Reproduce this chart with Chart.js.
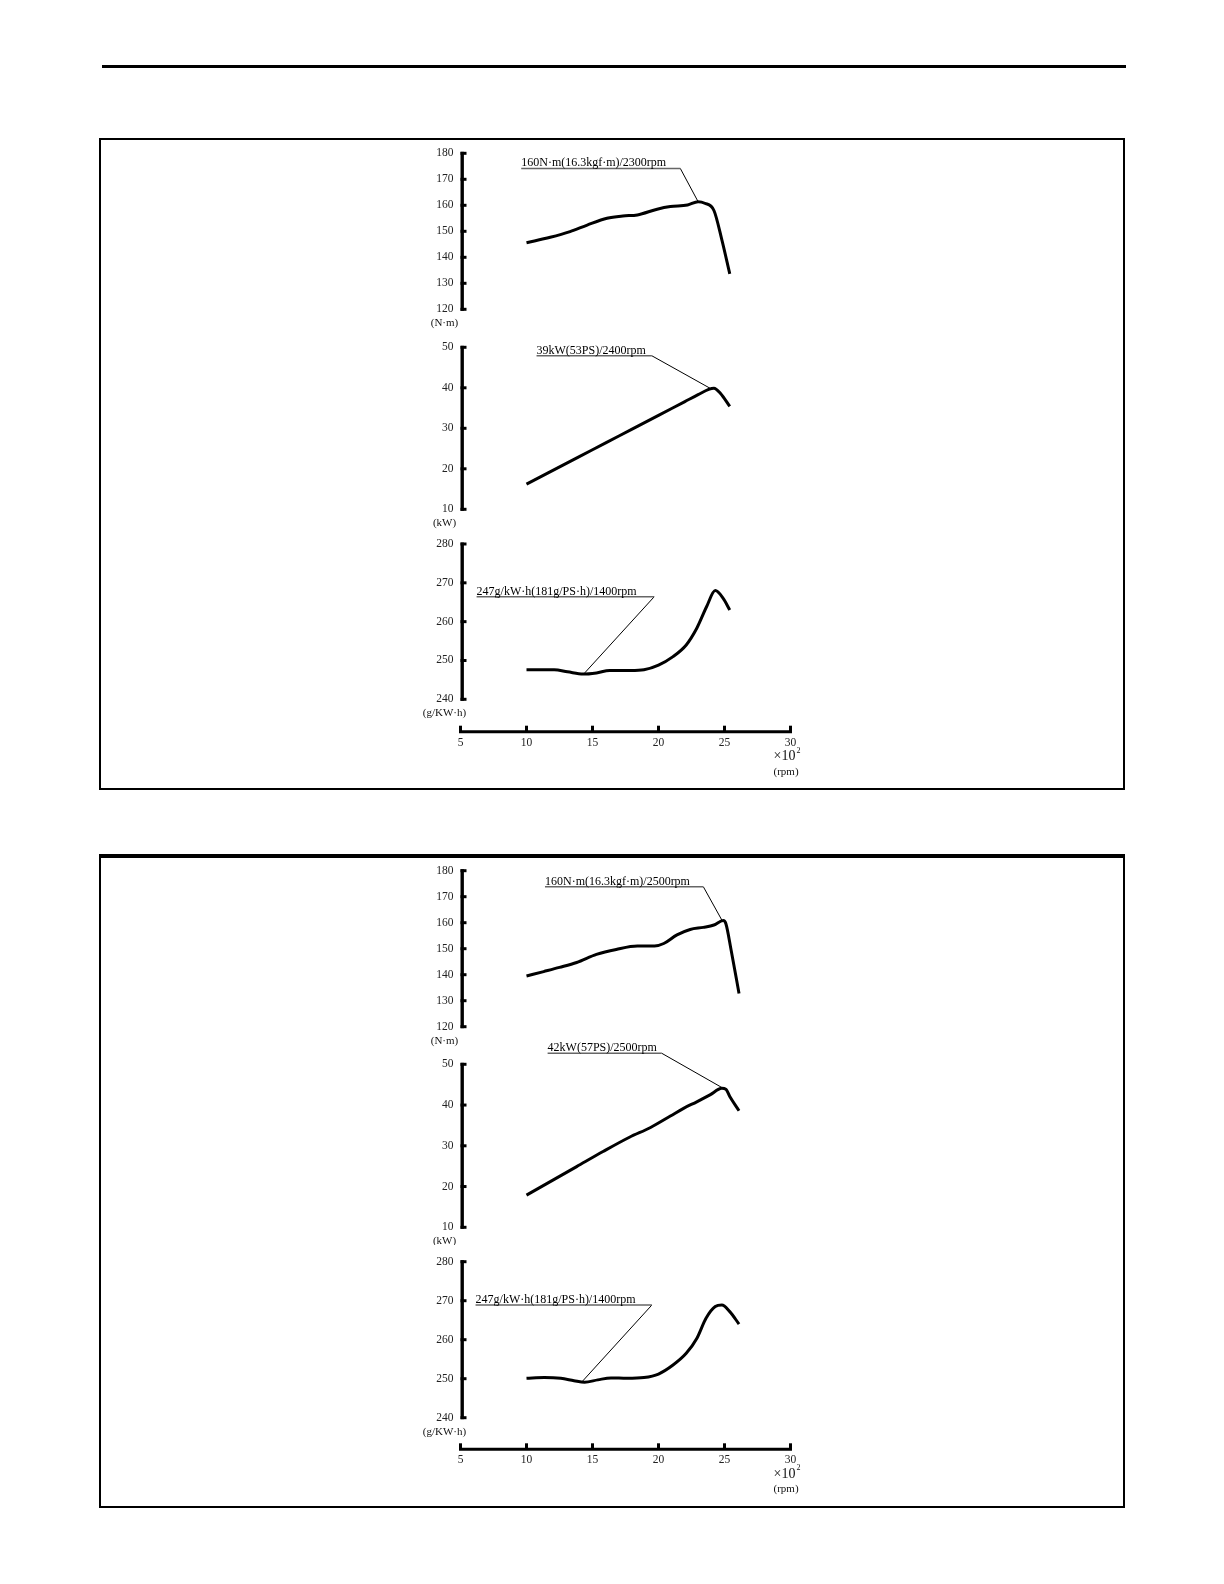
<!DOCTYPE html>
<html lang="zh">
<head>
<meta charset="UTF-8">
<title>发动机性能曲线</title>
<script src="https://cdn.jsdelivr.net/npm/chart.js@4"></script>
<style>
  body { margin: 0; background: #fff; }
  .page { position: relative; width: 1224px; height: 1584px; overflow: hidden; }
  .rule { position: absolute; left: 102px; top: 65px; width: 1024px; height: 3px; background: #000; }
  .frame { position: absolute; border: 2px solid #000; box-sizing: border-box; }
  canvas { position: absolute; left: 410px; }
</style>
</head>
<body>
<div class="page">
  <div class="rule"></div>
  <div class="frame" style="left:99px;top:138px;width:1026px;height:652px"></div>
  <div class="frame" style="left:99px;top:854px;width:1026px;height:654px;border-top-width:4px"></div>
  <canvas id="torqueA"></canvas>
  <canvas id="powerA"></canvas>
  <canvas id="fuelA"></canvas>
  <canvas id="torqueB"></canvas>
  <canvas id="powerB"></canvas>
  <canvas id="fuelB"></canvas>
</div>

<script>
// x values are rpm x 100
const xTicks = [5, 10, 15, 20, 25, 30];
const torqueTicks = [120, 130, 140, 150, 160, 170, 180];
const powerTicks = [10, 20, 30, 40, 50];
const fuelTicks = [240, 250, 260, 270, 280];

// upper chart
const rpmTorqueA = [10, 11.8, 13.3, 14.6, 16.1, 17.3, 18.4, 19.9, 20.9, 22.2, 23.0, 23.5, 24.2, 24.8, 25.4];
const torqueA = [145.6, 147.7, 149.9, 152.4, 155.0, 155.9, 156.3, 158.5, 159.5, 160.1, 161.4, 160.8, 158.0, 146.7, 133.6];
const rpmPowerA = [10, 12, 14, 16, 18, 20, 22, 23, 23.8, 24.2, 24.7, 25.4];
const powerA = [16.2, 19.6, 23.0, 26.4, 29.8, 33.2, 36.6, 38.3, 39.6, 39.9, 38.6, 35.4];
const rpmFuelA = [10, 12.1, 13.1, 14.3, 15.3, 16.3, 17.9, 18.9, 20, 21.1, 22.1, 22.9, 23.65, 24.3, 24.9, 25.4];
const fuelA = [247.6, 247.6, 247.1, 246.5, 246.8, 247.4, 247.4, 247.6, 248.8, 251.0, 254.0, 258.3, 263.9, 268.0, 266.0, 263.0];

// lower chart
const rpmTorqueB = [10, 11.3, 12.5, 13.8, 15.3, 16.8, 18.4, 19.7, 20.4, 21.4, 22.4, 23.4, 24.2, 24.9, 25.1, 25.5, 26.1];
const torqueB = [139.5, 141.2, 142.8, 144.7, 147.8, 149.7, 151.0, 151.0, 152.0, 155.3, 157.4, 158.2, 159.1, 160.8, 159.7, 149.5, 132.8];
const rpmPowerB = [10, 11.8, 13.8, 15.8, 17.8, 19.4, 20.9, 21.9, 22.9, 23.9, 24.8, 25.1, 25.4, 26.1];
const powerB = [17.9, 21.2, 24.9, 28.6, 32.1, 34.5, 37.3, 39.2, 40.8, 42.5, 44.1, 43.9, 42.1, 38.6];
const rpmFuelB = [10, 11.35, 12.6, 13.6, 14.4, 15.4, 16.4, 17.6, 18.9, 20, 21.1, 22.1, 22.9, 23.6, 24.3, 24.8, 25.4, 26.1];
const fuelB = [250.1, 250.3, 250.1, 249.5, 249.1, 249.7, 250.2, 250.1, 250.3, 251.2, 253.5, 256.5, 260.3, 265.5, 268.5, 268.9, 267.2, 264.0];

// callouts: [underline start, underline end, underline level, pointed x, pointed y]
const noteTorqueA = [9.6, 21.65, 174.2, 23.0, 161.4];
const notePowerA = [10.76, 19.5, 47.9, 23.9, 39.9];
const noteFuelA = [6.22, 19.67, 266.4, 14.33, 246.5];
const noteTorqueB = [11.4, 23.4, 173.8, 24.8, 161.0];
const notePowerB = [11.6, 20.25, 52.7, 24.8, 44.3];
const noteFuelB = [6.14, 19.5, 268.9, 14.2, 249.2];

const SERIF = '"Liberation Serif", "DejaVu Serif", serif';

const deco = {
  id: 'deco',
  afterDraw(chart, args, o) {
    const { ctx, chartArea: a, scales: { x, y } } = chart;
    const top = y.getPixelForValue(o.ticks[o.ticks.length - 1]);
    const bot = y.getPixelForValue(o.ticks[0]);
    ctx.save();
    ctx.strokeStyle = '#000';
    ctx.fillStyle = '#111';
    ctx.lineWidth = 3.4;
    ctx.beginPath();
    ctx.moveTo(a.left + 1.7, top - 1.5);
    ctx.lineTo(a.left + 1.7, bot + 1.5);
    ctx.stroke();
    ctx.lineWidth = 3;
    o.ticks.forEach(v => {
      const p = y.getPixelForValue(v);
      ctx.beginPath();
      ctx.moveTo(a.left, p);
      ctx.lineTo(a.left + 6, p);
      ctx.stroke();
    });

    ctx.font = '11px ' + SERIF;
    ctx.textAlign = 'center';
    ctx.textBaseline = 'middle';
    ctx.fillText(o.unit, a.left - 16, bot + 14);

    const n = o.note;
    ctx.fillStyle = '#000';
    ctx.font = '12px ' + SERIF;
    ctx.textAlign = 'left';
    ctx.textBaseline = 'alphabetic';
    ctx.fillText(o.label, x.getPixelForValue(n[0]), y.getPixelForValue(n[2]) - 2);

    if (o.withX) {
      const yb = a.bottom;
      const x0 = x.getPixelForValue(xTicks[0]);
      const x1 = x.getPixelForValue(xTicks[xTicks.length - 1]);
      ctx.lineWidth = 3;
      ctx.beginPath();
      ctx.moveTo(x0 - 1.5, yb);
      ctx.lineTo(x1 + 1.5, yb);
      ctx.stroke();
      xTicks.forEach(v => {
        const p = x.getPixelForValue(v);
        ctx.beginPath();
        ctx.moveTo(p, yb);
        ctx.lineTo(p, yb - 6);
        ctx.stroke();
      });
      ctx.fillStyle = '#111';
      ctx.textBaseline = 'middle';
      ctx.font = '14px ' + SERIF;
      const xl = x1 - 17;
      ctx.fillText('×10', xl, yb + 25);
      const w = ctx.measureText('×10').width;
      ctx.font = '8px ' + SERIF;
      ctx.fillText('2', xl + w + 1, yb + 19);
      ctx.font = '11px ' + SERIF;
      ctx.fillText('(rpm)', xl, yb + 40);
    }
    ctx.restore();
  }
};

// top / height: canvas band on the page; cal: [value, page y, value, page y]
function panel(id, top, height, cal, ticks, xs, ys, note, label, unit, xAxisY) {
  const el = document.getElementById(id);
  el.width = 420;
  el.height = height;
  el.style.top = top + 'px';
  const withX = xAxisY !== undefined;
  const plotBottom = withX ? xAxisY : top + height;
  const xh = top + height - plotBottom;
  const [v1, p1, v2, p2] = cal;
  const ppu = (p2 - p1) / (v1 - v2);
  const ymax = v1 + (p1 - top) / ppu;
  const ymin = v2 - (plotBottom - p2) / ppu;
  const tickFont = { family: SERIF, size: 11.5 };

  new Chart(el, {
    type: 'line',
    data: {
      datasets: [
        {
          data: xs.map((v, i) => ({ x: v, y: ys[i] })),
          borderColor: '#000',
          borderWidth: 3,
          pointRadius: 0,
          cubicInterpolationMode: 'monotone'
        },
        {
          data: [{ x: note[0], y: note[2] }, { x: note[1], y: note[2] }],
          borderColor: '#666',
          borderWidth: 1.5,
          pointRadius: 0
        },
        {
          data: [{ x: note[1], y: note[2] }, { x: note[3], y: note[4] }],
          borderColor: '#000',
          borderWidth: 1,
          pointRadius: 0
        }
      ]
    },
    options: {
      responsive: false,
      animation: false,
      layout: { padding: { top: 0, bottom: 0, left: 0, right: 39.5 } },
      plugins: {
        legend: { display: false },
        tooltip: { enabled: false },
        deco: { ticks, note, label, unit, withX }
      },
      scales: {
        x: {
          type: 'linear',
          min: 5,
          max: 30,
          display: withX,
          afterBuildTicks: s => { s.ticks = xTicks.map(v => ({ value: v })); },
          grid: { display: false, drawTicks: false },
          border: { display: false },
          ticks: { padding: 4, font: tickFont, color: '#222', autoSkip: false, maxRotation: 0 },
          afterFit: s => { s.height = xh; s.paddingLeft = 0; s.paddingRight = 0; }
        },
        y: {
          type: 'linear',
          min: ymin,
          max: ymax,
          afterBuildTicks: s => { s.ticks = ticks.map(v => ({ value: v })); },
          grid: { display: false, drawTicks: false },
          border: { display: false },
          ticks: { padding: 7, font: tickFont, color: '#222', autoSkip: false },
          afterFit: s => { s.width = 50.5; s.paddingTop = 0; s.paddingBottom = 0; }
        }
      }
    },
    plugins: [deco]
  });
}

panel('torqueA', 141, 189, [180, 153.3, 120, 309.3], torqueTicks, rpmTorqueA, torqueA,
  noteTorqueA, '160N·m(16.3kgf·m)/2300rpm', '(N·m)');
panel('powerA', 330, 200, [50, 347.3, 10, 509.3], powerTicks, rpmPowerA, powerA,
  notePowerA, '39kW(53PS)/2400rpm', '(kW)');
panel('fuelA', 530, 258, [280, 544, 240, 699.3], fuelTicks, rpmFuelA, fuelA,
  noteFuelA, '247g/kW·h(181g/PS·h)/1400rpm', '(g/KW·h)', 731.7);

panel('torqueB', 858, 192, [180, 870.7, 120, 1026.7], torqueTicks, rpmTorqueB, torqueB,
  noteTorqueB, '160N·m(16.3kgf·m)/2500rpm', '(N·m)');
panel('powerB', 1036, 209, [50, 1064.3, 10, 1227.3], powerTicks, rpmPowerB, powerB,
  notePowerB, '42kW(57PS)/2500rpm', '(kW)');
panel('fuelB', 1245, 262, [280, 1261.7, 240, 1417.7], fuelTicks, rpmFuelB, fuelB,
  noteFuelB, '247g/kW·h(181g/PS·h)/1400rpm', '(g/KW·h)', 1449.3);
</script>
</body>
</html>
